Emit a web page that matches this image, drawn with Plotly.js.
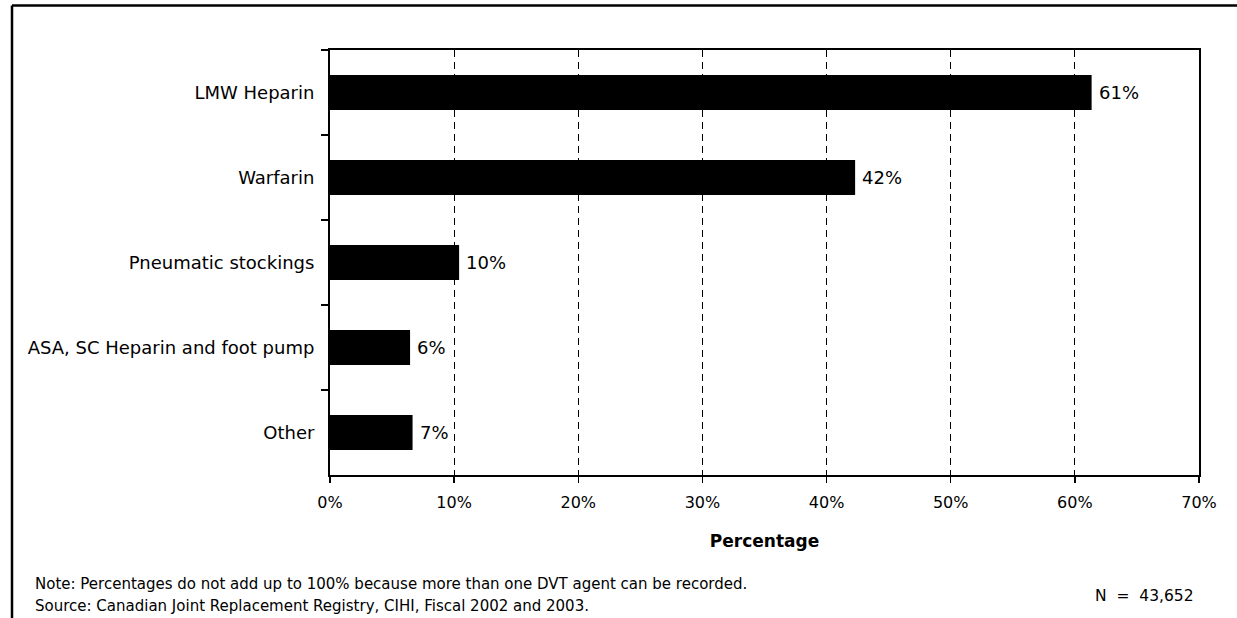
<!DOCTYPE html>
<html>
<head>
<meta charset="utf-8">
<script src="https://cdn.plot.ly/plotly-3.0.1.min.js"></script>
<style>
  html, body { margin: 0; padding: 0; background: #ffffff; }
  #chart { width: 1237px; height: 618px; }
</style>
</head>
<body>
<div id="chart"></div>
<script>
// DVT prophylaxis agents recorded (share of procedures)
const agents = ["LMW Heparin", "Warfarin", "Pneumatic stockings", "ASA, SC Heparin and foot pump", "Other"];
const shares = [61.35, 42.3, 10.4, 6.45, 6.65];
const xTickValues = [0, 10, 20, 30, 40, 50, 60, 70];
const xTickLabels = xTickValues.map(v => v + "%");
const noteText = "Note: Percentages do not add up to 100% because more than one DVT agent can be recorded.";
const sourceText = "Source: Canadian Joint Replacement Registry, CIHI, Fiscal 2002 and 2003.";
const sampleText = "N  =  43,652";

const FONT = "DejaVu Sans, Liberation Sans, Arial, sans-serif";

// plot-area geometry in pixels, used to place paper-referenced extras
const W = 1237, H = 618;
const M = { l: 330, r: 38, t: 50, b: 143 };
const pw = W - M.l - M.r, ph = H - M.t - M.b;
const px = x => (x - M.l) / pw;
const py = y => (H - M.b - y) / ph;

const trace = {
  type: "bar",
  orientation: "h",
  y: agents,
  x: shares,
  marker: { color: "#000000", line: { width: 0 } },
  hoverinfo: "skip"
};

// value labels just past each bar end
const valueLabels = agents.map((a, i) => ({
  x: shares[i], y: a, xref: "x", yref: "y",
  text: Math.round(shares[i]) + "%",
  showarrow: false, xanchor: "left", yanchor: "middle", xshift: 5,
  font: { family: FONT, size: 18, color: "#000000" }
}));

const footer = [
  { text: noteText, x: px(33), y: py(584), xanchor: "left", yanchor: "middle",
    font: { family: FONT, size: 15, color: "#000000" } },
  { text: sourceText, x: px(33), y: py(606), xanchor: "left", yanchor: "middle",
    font: { family: FONT, size: 15, color: "#000000" } },
  { text: sampleText, x: px(1196), y: py(596), xanchor: "right", yanchor: "middle",
    font: { family: FONT, size: 15.5, color: "#000000" } }
].map(a => Object.assign({ xref: "paper", yref: "paper", showarrow: false }, a));

const frame = [
  { type: "line", xref: "paper", yref: "paper", x0: px(12), x1: px(W + 5), y0: py(5.5), y1: py(5.5),
    line: { color: "#000000", width: 2.5 } },
  { type: "line", xref: "paper", yref: "paper", x0: px(12), x1: px(12), y0: py(5.5), y1: py(H + 5),
    line: { color: "#000000", width: 2.5 } }
];

const layout = {
  width: W, height: H,
  margin: M,
  paper_bgcolor: "#ffffff",
  plot_bgcolor: "#ffffff",
  showlegend: false,
  bargap: 0.59,
  font: { family: FONT, color: "#000000" },
  xaxis: {
    range: [0, 70],
    tickmode: "array",
    tickvals: xTickValues,
    ticktext: xTickLabels,
    ticks: "outside", ticklen: 6, tickwidth: 1.5, tickcolor: "#000000",
    ticklabelstandoff: 6,
    tickfont: { family: FONT, size: 16, color: "#000000" },
    showgrid: true, gridcolor: "#000000", gridwidth: 1, griddash: "7px,5px",
    zeroline: false,
    showline: true, linecolor: "#000000", linewidth: 2, mirror: true,
    title: { text: "<b>Percentage</b>", standoff: 24,
             font: { family: FONT, size: 17, color: "#000000" } },
    fixedrange: true
  },
  yaxis: {
    type: "category",
    autorange: "reversed",
    tickson: "boundaries",
    ticks: "outside", ticklen: 7, tickwidth: 1.5, tickcolor: "#000000",
    ticklabelstandoff: 10,
    tickfont: { family: FONT, size: 18, color: "#000000" },
    showgrid: false, zeroline: false,
    showline: true, linecolor: "#000000", linewidth: 2, mirror: true,
    fixedrange: true
  },
  annotations: valueLabels.concat(footer),
  shapes: frame
};

Plotly.newPlot("chart", [trace], layout, { displayModeBar: false, staticPlot: true });
</script>
</body>
</html>
